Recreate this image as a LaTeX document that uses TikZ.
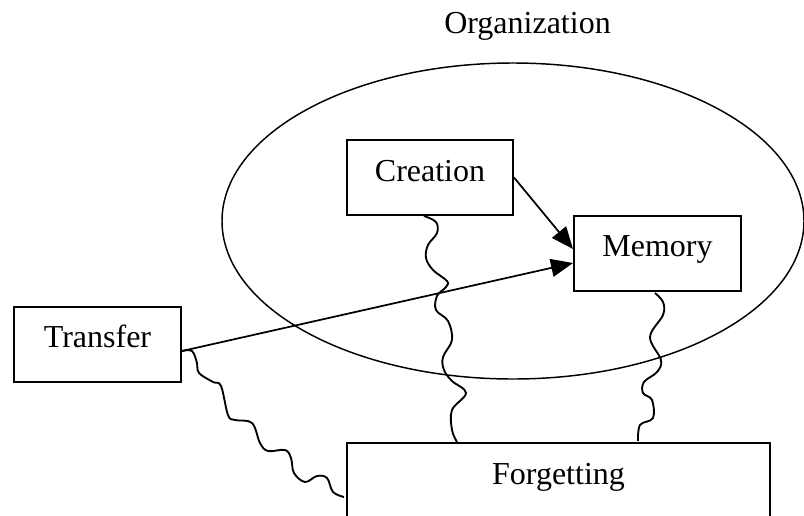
\documentclass[tikz,border=0pt]{standalone}
\usepackage{fontspec}
\setmainfont{Liberation Serif}
\usetikzlibrary{shapes.geometric,arrows.meta,calc}

\tikzset{
  box/.style={draw, line width=1.5pt, fill=white, inner xsep=0pt, inner ysep=0pt,
    anchor=north west, font=\fontsize{24pt}{29pt}\selectfont},
  link/.style={line width=1.3pt, -{Triangle[length=16.5pt,width=13.5pt]}},
  squiggle/.style={line width=1.4pt, smooth, tension=0.6},
}

\begin{document}
% one unit = one pixel of an 804 x 515 canvas, y pointing down
\begin{tikzpicture}[x=0.75pt, y=-0.75pt]
  \clip (0,0) rectangle (804,515);
  \useasboundingbox (0,0) rectangle (804,515);

  % the organization boundary and its caption
  \node[draw, ellipse, line width=1.1pt, inner sep=0pt,
        minimum width=436.5pt, minimum height=237pt] (org) at (513,221) {};
  \node[anchor=base, font=\fontsize{24pt}{29pt}\selectfont] (orglabel) at (527.5,33) {Organization};

  % processes
  \node[box, minimum width=125.25pt, text height=30pt, text depth=26.25pt]
    (transfer) at (13,306) {Transfer};
  \node[box, minimum width=124.5pt, text height=30.75pt, text depth=25.5pt]
    (creation) at (346,139) {Creation};
  \node[box, minimum width=125.25pt, text height=30pt, text depth=26.25pt]
    (memory) at (573,215) {Memory};
  \node[box, minimum width=317.25pt, text height=30.75pt, text depth=60pt]
    (forgetting) at (346,442) {Forgetting};

  % knowledge flows into memory
  \draw[link] (creation.east) -- ($(memory.west)+(0,-4.5)$);
  \draw[link] ($(transfer.east)+(0,6.5)$) -- ($(memory.west)+(0,9.5)$);

  % leaks towards forgetting
  \coordinate (cs) at ($(creation.south)+(-6,0)$);
  \coordinate (ce) at ($(forgetting.north west)+(111,0)$);
  \coordinate (ms) at ($(memory.south)+(-2.5,1)$);
  \coordinate (me) at ($(forgetting.north west)+(292,-1)$);
  \coordinate (ts) at ($(transfer.east)+(0,6.5)$);
  \coordinate (te) at ($(forgetting.north west)+(-2,55)$);

  \draw[squiggle] plot coordinates {(cs) (436,222) (437,233) (428,245) (426,258)
    (433,270) (447,281) (446,287) (437,296) (436,310) (448,321) (452,340)
    (443,357) (444,370) (452,381) (466,393) (452,410) (452,430) (ce)};
  \draw[squiggle] plot coordinates {(ms) (663,302) (663,315) (650,337) (661,360)
    (657,372) (644,382) (643,393) (652,400) (653,418) (640,425) (me)};
  \draw[squiggle] plot coordinates {(ts) (192,351) (197,363) (199,373) (213,382)
    (221,386) (228,415) (235,420) (252,423) (260,443) (268,451) (285,450)
    (291,458) (294,473) (305,482) (317,476) (327,478) (333,492) (te)};
\end{tikzpicture}
\end{document}
